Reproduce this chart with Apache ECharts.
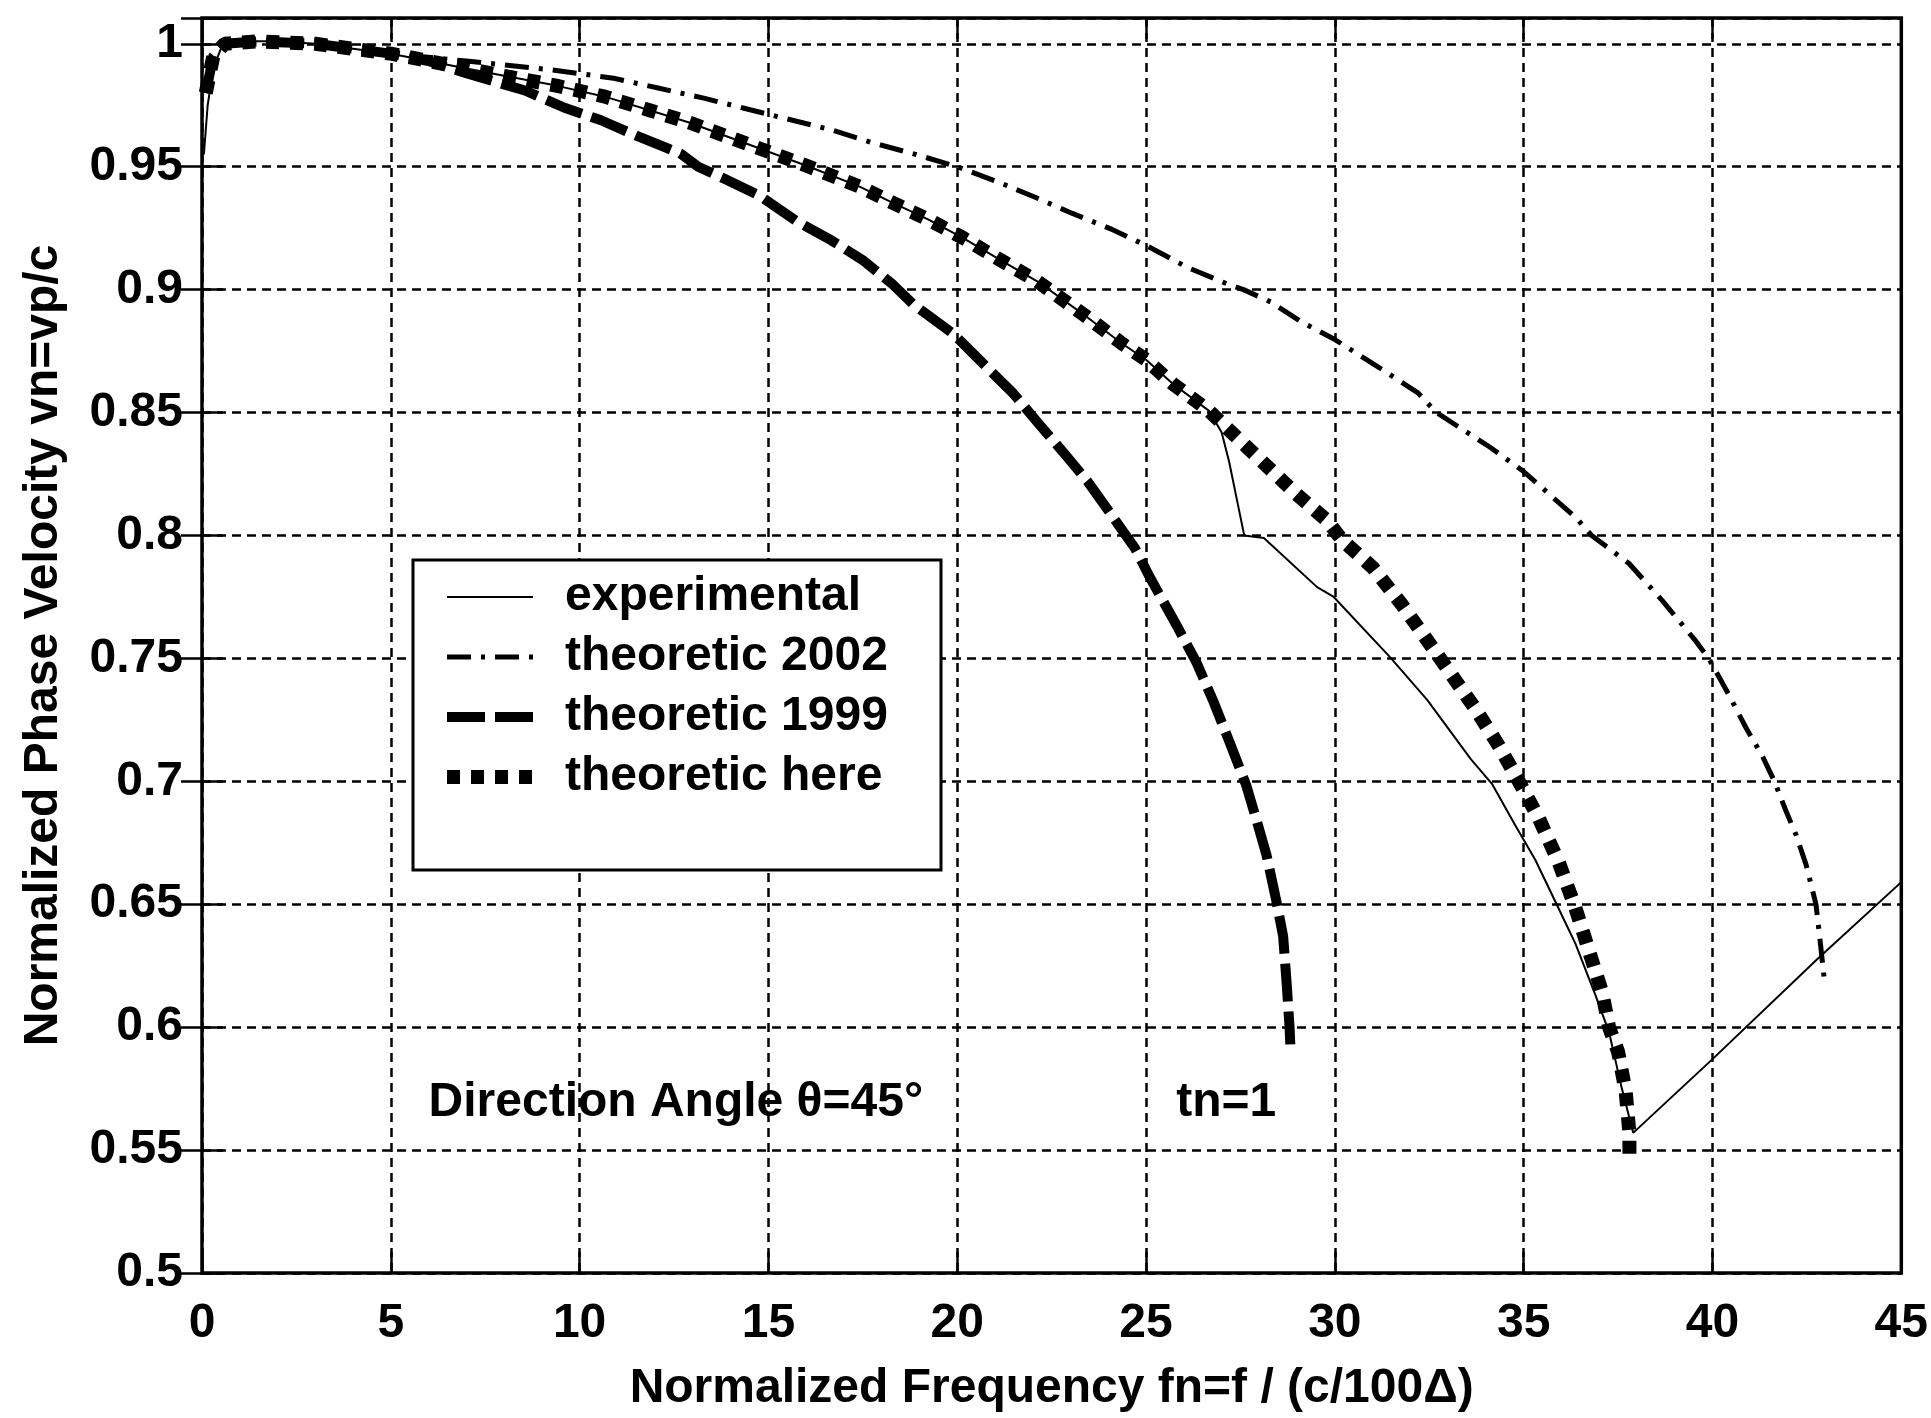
<!DOCTYPE html>
<html>
<head>
<meta charset="utf-8">
<title>Normalized Phase Velocity</title>
<script src="https://cdn.jsdelivr.net/npm/echarts@6/dist/echarts.min.js"></script>
<style>
  html, body { margin: 0; padding: 0; background: #fff; }
  #chart { width: 1931px; height: 1418px; }
</style>
</head>
<body>
<div id="chart"></div>
<script>
// Measured phase velocity (fn, vn)
const experimental = [
  [0.05, 0.955], [0.15, 0.975], [0.3, 0.99], [0.5, 0.998], [1.0, 1.001], [2.0, 1.001],
  [3.0, 1.0], [4.0, 0.998], [5.0, 0.996], [6.0, 0.993], [7.0, 0.99], [8.0, 0.987],
  [9.38, 0.983], [10.67, 0.9785], [11.85, 0.973], [12.9, 0.968], [13.96, 0.962],
  [15.02, 0.956], [16.08, 0.95], [17.4, 0.942], [18.2, 0.936], [19.24, 0.9285],
  [20.16, 0.921], [21.08, 0.9126], [22.13, 0.9033], [23.45, 0.8887], [24.37, 0.878],
  [25.0, 0.8715], [25.7, 0.8618], [26.66, 0.8508], [27.0, 0.842], [27.2, 0.83],
  [27.4, 0.815], [27.6, 0.8], [28.12, 0.799], [29.53, 0.779], [29.97, 0.775],
  [31.46, 0.7505], [32.45, 0.733], [33.6, 0.709], [34.16, 0.699], [34.78, 0.682],
  [35.31, 0.668], [35.84, 0.651], [36.37, 0.634], [36.9, 0.613], [37.26, 0.598],
  [37.6, 0.575], [37.9, 0.557], [40.0, 0.587], [42.8, 0.628], [45.0, 0.659]
];

// Theory of 2002
const theoretic2002 = [
  [0.1, 0.98], [0.3, 0.995], [0.6, 1.0], [1.5, 1.001], [3.0, 1.0], [4.0, 0.998],
  [5.0, 0.996], [7.0, 0.993], [9.26, 0.9894], [10.9, 0.986], [12.08, 0.982],
  [13.26, 0.978], [14.3, 0.974], [15.35, 0.97], [16.67, 0.965], [17.7, 0.96],
  [18.9, 0.955], [20.0, 0.95], [21.08, 0.9438], [22.0, 0.938], [23.05, 0.931],
  [24.1, 0.9245], [25.0, 0.918], [26.1, 0.909], [27.2, 0.902], [27.58, 0.9],
  [28.3, 0.895], [29.1, 0.887], [30.0, 0.8797], [31.1, 0.869], [32.2, 0.858],
  [32.69, 0.85], [34.1, 0.836], [35.0, 0.826], [36.4, 0.807], [36.8, 0.8],
  [37.79, 0.7886], [38.67, 0.7735], [39.56, 0.757], [39.9, 0.75], [40.44, 0.735],
  [40.88, 0.722], [41.33, 0.71], [41.64, 0.7], [41.95, 0.6878], [42.21, 0.6783],
  [42.48, 0.666], [42.74, 0.65], [42.83, 0.638], [42.96, 0.6195]
];

// Theory of 1999
const theoretic1999 = [
  [0.1, 0.98], [0.3, 0.995], [0.6, 1.0], [1.5, 1.001], [3.0, 1.0], [4.0, 0.998],
  [5.0, 0.996], [6.0, 0.993], [7.0, 0.988], [8.55, 0.981], [9.6, 0.974],
  [10.55, 0.969], [11.6, 0.962], [12.67, 0.9554], [13.14, 0.95], [13.85, 0.945],
  [14.79, 0.938], [15.73, 0.928], [16.67, 0.92], [17.5, 0.912], [18.3, 0.902],
  [18.84, 0.894], [19.9, 0.882], [20.68, 0.87], [21.47, 0.858], [22.13, 0.846],
  [22.8, 0.834], [23.45, 0.822], [24.1, 0.808], [24.7, 0.795], [25.1, 0.783],
  [25.8, 0.7637], [26.33, 0.7485], [26.77, 0.733], [27.21, 0.716], [27.65, 0.6985],
  [27.92, 0.6845], [28.19, 0.67], [28.45, 0.6513], [28.63, 0.637], [28.72, 0.6185],
  [28.8, 0.6], [28.82, 0.593]
];

// Theory of this work
const theoreticHere = [
  [0.1, 0.98], [0.3, 0.995], [0.6, 1.0], [1.5, 1.001], [3.0, 1.0], [4.0, 0.998],
  [5.0, 0.996], [6.0, 0.993], [7.0, 0.99], [8.0, 0.987], [9.38, 0.983],
  [10.67, 0.9785], [11.85, 0.973], [12.9, 0.968], [13.96, 0.962], [15.02, 0.956],
  [16.08, 0.95], [17.4, 0.942], [18.2, 0.936], [19.24, 0.9285], [20.16, 0.921],
  [21.08, 0.9126], [22.13, 0.9033], [23.45, 0.8887], [24.37, 0.878], [25.0, 0.8715],
  [25.7, 0.8618], [26.66, 0.8508], [27.6, 0.837], [28.42, 0.825], [28.97, 0.817],
  [29.8, 0.806], [30.2, 0.798], [31.0, 0.787], [31.77, 0.772], [32.74, 0.751],
  [33.72, 0.7295], [34.34, 0.7145], [34.87, 0.7], [35.4, 0.685], [35.93, 0.667],
  [36.37, 0.6485], [36.73, 0.631], [37.08, 0.614], [37.26, 0.6], [37.5, 0.59],
  [37.7, 0.574], [37.8, 0.557], [37.8, 0.545]
];

// Axis ticks
const xTicks = [0, 5, 10, 15, 20, 25, 30, 35, 40, 45];
const yTicks = [0.5, 0.55, 0.6, 0.65, 0.7, 0.75, 0.8, 0.85, 0.9, 0.95, 1];

// Annotations placed in data coordinates
const notes = [
  { at: [6.0, 0.5693], text: 'Direction Angle θ=45°' },
  { at: [25.8, 0.5693], text: 'tn=1' }
];

const FONT = 'Liberation Sans, Arial, Helvetica, sans-serif';
const FS = 48;
const INK = '#000';

const gridDash = { color: INK, width: 2.5, type: [9, 6] };
const tickStyle = { show: true, inside: true, length: 21, lineStyle: { color: INK, width: 2.5 } };

const styles = {
  experimental: { color: INK, width: 2, type: 'solid' },
  t2002: { color: INK, width: 5, type: [24, 10, 4, 10] },
  t1999: { color: INK, width: 10, type: [38, 10] },
  here: { color: INK, width: 14, type: [13, 11] }
};

function lineSeries(name, data, st, z) {
  return {
    name: name,
    type: 'line',
    data: data,
    symbol: 'none',
    showSymbol: false,
    smooth: false,
    z: z,
    itemStyle: { color: INK },
    lineStyle: { color: st.color, width: st.width, type: st.type, cap: 'butt' },
    emphasis: { disabled: true }
  };
}

function noteSeries(n) {
  return {
    type: 'scatter',
    data: [n.at],
    symbolSize: 0,
    silent: true,
    z: 20,
    itemStyle: { opacity: 1, color: INK },
    label: {
      show: true,
      position: 'right',
      distance: 0,
      opacity: 1,
      formatter: n.text,
      color: INK,
      fontFamily: FONT,
      fontWeight: 'bold',
      fontSize: FS
    }
  };
}

function legendItem(name, st) {
  return {
    name: name,
    itemStyle: { opacity: 0 },
    lineStyle: { color: INK, width: st.width, type: st.type, cap: 'butt', opacity: 1 }
  };
}

const chart = echarts.init(document.getElementById('chart'), null, { renderer: 'canvas' });

const option = {
  animation: false,
  backgroundColor: '#fff',
  grid: {
    left: 202, right: 24, top: 18, bottom: 141,
    show: true, borderColor: INK, borderWidth: 3.5, backgroundColor: 'transparent'
  },
  xAxis: [
    {
      type: 'value', position: 'bottom',
      min: xTicks[0], max: xTicks[xTicks.length - 1], interval: 5,
      axisLine: { show: false },
      axisTick: tickStyle,
      splitLine: { show: true, lineStyle: gridDash },
      axisLabel: {
        color: INK, fontFamily: FONT, fontWeight: 'bold', fontSize: FS, margin: 27,
        formatter: v => (xTicks.indexOf(v) >= 0 ? String(v) : '')
      },
      name: 'Normalized Frequency fn=f / (c/100Δ)',
      nameLocation: 'middle', nameGap: 92,
      nameTextStyle: { color: INK, fontFamily: FONT, fontWeight: 'bold', fontSize: FS }
    },
    {
      type: 'value', position: 'top',
      min: xTicks[0], max: xTicks[xTicks.length - 1], interval: 5,
      axisLine: { show: false }, axisTick: tickStyle,
      splitLine: { show: false }, axisLabel: { show: false }
    }
  ],
  yAxis: [
    {
      type: 'value', position: 'left',
      min: 0.5, max: 1.0105, interval: 0.05,
      axisLine: { show: false },
      axisTick: tickStyle,
      splitLine: { show: true, lineStyle: gridDash },
      axisLabel: {
        color: INK, fontFamily: FONT, fontWeight: 'bold', fontSize: FS, margin: 19,
        formatter: v => {
          const hit = yTicks.find(t => Math.abs(t - v) < 1e-6);
          return hit === undefined ? '' : String(hit);
        }
      },
      name: 'Normalized Phase Velocity vn=vp/c',
      nameLocation: 'middle', nameGap: 134, nameRotate: 90,
      nameTextStyle: { color: INK, fontFamily: FONT, fontWeight: 'bold', fontSize: FS }
    },
    {
      type: 'value', position: 'right',
      min: 0.5, max: 1.0105, interval: 0.05,
      axisLine: { show: false }, axisTick: tickStyle,
      splitLine: { show: false }, axisLabel: { show: false }
    }
  ],
  legend: {
    orient: 'vertical',
    left: 413, top: 560,
    padding: [12, 31, 68, 27],
    itemGap: 10,
    itemWidth: 86,
    itemHeight: 14,
    backgroundColor: '#fff',
    borderColor: INK,
    borderWidth: 3,
    selectedMode: false,
    textStyle: {
      color: INK, fontFamily: FONT, fontWeight: 'bold', fontSize: FS,
      lineHeight: 50, width: 345, padding: [0, 0, 0, 27]
    },
    data: [
      legendItem('experimental', styles.experimental),
      legendItem('theoretic 2002', styles.t2002),
      legendItem('theoretic 1999', styles.t1999),
      legendItem('theoretic here', styles.here)
    ]
  },
  series: [
    lineSeries('theoretic 2002', theoretic2002, styles.t2002, 3),
    lineSeries('theoretic 1999', theoretic1999, styles.t1999, 4),
    lineSeries('theoretic here', theoreticHere, styles.here, 5),
    lineSeries('experimental', experimental, styles.experimental, 6),
    noteSeries(notes[0]),
    noteSeries(notes[1])
  ]
};

chart.setOption(option);
</script>
</body>
</html>
